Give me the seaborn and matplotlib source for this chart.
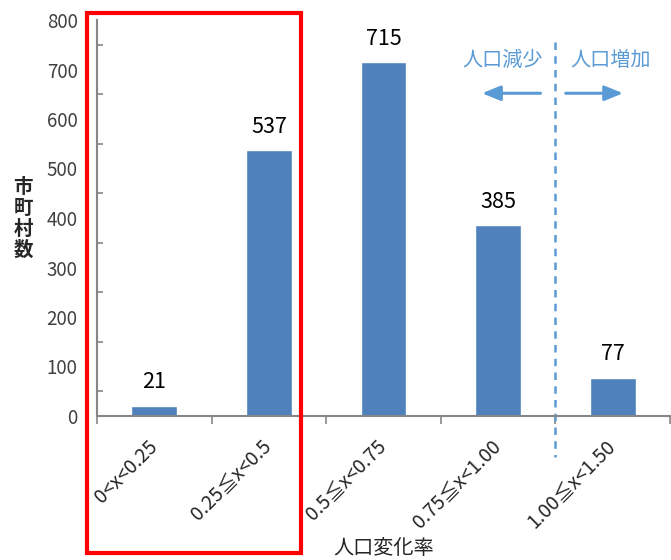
import matplotlib
matplotlib.use("Agg")
import matplotlib.pyplot as plt
import seaborn as sns
import pandas as pd
from matplotlib.patches import Rectangle
from matplotlib.ticker import MultipleLocator

categories = ["0<x<0.25", "0.25≦x<0.5", "0.5≦x<0.75", "0.75≦x<1.00", "1.00≦x<1.50"]
counts = [21, 537, 715, 385, 77]
y_ticks = [0, 100, 200, 300, 400, 500, 600, 700, 800]

sns.set_style("white")
plt.rcParams['font.family'] = ['Noto Sans CJK JP', 'DejaVu Sans']

df = pd.DataFrame({"cat": categories, "n": counts})

fig = plt.figure(figsize=(6.71, 5.60), dpi=100)
ax = fig.add_axes([97/671, 1-416/560, 573/671, 396/560])

sns.barplot(data=df, x="cat", y="n", color="#4F81BD", width=0.4, saturation=1,
            ax=ax, order=categories)

ax.set_ylim(0, 800)
ax.set_xlim(-0.5, 4.5)
ax.set_yticks(y_ticks)
ax.yaxis.set_minor_locator(MultipleLocator(50))
ax.tick_params(axis='y', which='major', length=0, labelsize=13.5, labelcolor='#404040', pad=14)
ax.tick_params(axis='y', which='minor', length=4, direction='in', color='#868686', width=1.2, left=True)
ax.set_xticks([i - 0.5 for i in range(len(categories) + 1)], minor=True)
ax.set_xticks(range(len(categories)))
ax.set_xticklabels(categories, rotation=45, ha='right', va='center',
                   rotation_mode='anchor', fontsize=14)
ax.tick_params(axis='x', which='major', length=0, pad=20)
ax.tick_params(axis='x', which='minor', length=6, direction='out', color='#868686', width=1.2, bottom=True)

for s in ['top', 'right']:
    ax.spines[s].set_visible(False)
for s in ['left', 'bottom']:
    ax.spines[s].set_color('#868686')
    ax.spines[s].set_linewidth(1.5)

ax.set_xlabel("人口変化率", fontsize=14.5)
ax.xaxis.label.set_va('center')
ax.set_ylabel("")
ax.xaxis.set_label_coords(0.5, -(132/396))

for i, v in enumerate(counts):
    ax.annotate(str(v), (i, v), xytext=(0, 9), textcoords='offset points',
                ha='center', va='bottom', fontsize=15.5, color='black')

fig.text(23/671, 1-219/560, "市\n町\n村\n数", fontsize=14, ha='center', va='center',
         linespacing=1.12, fontweight='bold')

blue = "#5B9BD5"
ax.plot([3.5, 3.5], [755, -83], ls=(0, (3, 2.5)), color=blue, lw=1.8, clip_on=False)
ax.text(3.04, 719, "人口減少", color=blue, fontsize=14.5, ha='center', va='center')
ax.text(3.98, 719, "人口増加", color=blue, fontsize=14.5, ha='center', va='center')
ax.annotate("", xy=(2.86, 652), xytext=(3.37, 652),
            arrowprops=dict(arrowstyle='-|>,head_length=1.1,head_width=0.45', color=blue, lw=2.2,
                            shrinkA=0, shrinkB=0))
ax.annotate("", xy=(4.09, 652), xytext=(3.59, 652),
            arrowprops=dict(arrowstyle='-|>,head_length=1.1,head_width=0.45', color=blue, lw=2.2,
                            shrinkA=0, shrinkB=0))

fig.add_artist(Rectangle((87/671, 1-553/560), 214/671, 540/560, transform=fig.transFigure,
                         fill=False, edgecolor='#FF0000', lw=3, clip_on=False))

fig.savefig("out.png", dpi=100)
